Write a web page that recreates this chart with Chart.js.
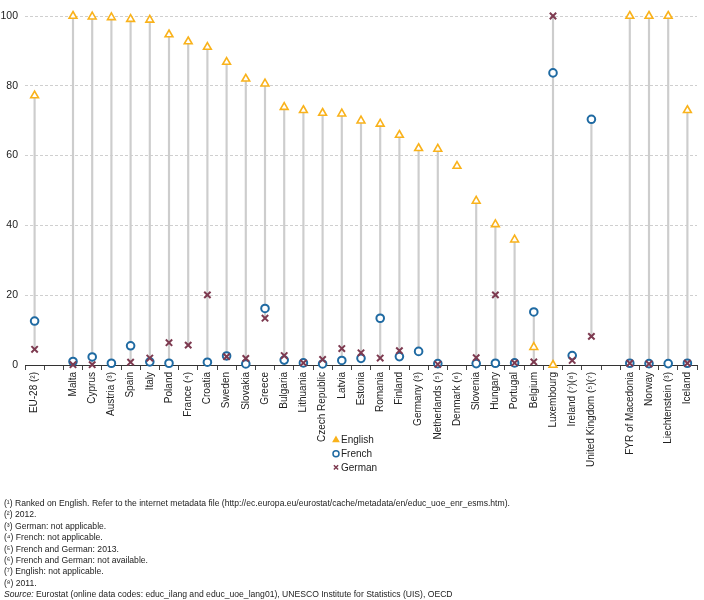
<!DOCTYPE html>
<html>
<head>
<meta charset="utf-8">
<script src="https://cdn.jsdelivr.net/npm/chart.js@4"></script>
<style>
    body { margin: 0; background: #fff; }
    #wrap { position: relative; width: 704px; height: 600px; }
    #notes {
        position: absolute; left: 4px; top: 498px;
        font-family: "Liberation Sans", Arial, sans-serif;
        font-size: 8.6px; line-height: 11.4px; color: #222;
    }
</style>
</head>
<body>
<div id="wrap">
    <canvas id="chart" width="704" height="600"></canvas>
    <div id="notes">
        (¹) Ranked on English. Refer to the internet metadata file (http://ec.europa.eu/eurostat/cache/metadata/en/educ_uoe_enr_esms.htm).<br>
        (²) 2012.<br>
        (³) German: not applicable.<br>
        (⁴) French: not applicable.<br>
        (⁵) French and German: 2013.<br>
        (⁶) French and German: not available.<br>
        (⁷) English: not applicable.<br>
        (⁸) 2011.<br>
        <i>Source:</i> Eurostat (online data codes: educ_ilang and educ_uoe_lang01), UNESCO Institute for Statistics (UIS), OECD
    </div>
</div>
<script>
// Categories (empty strings are the gaps in the axis)
const countries = ['EU-28 (²)', '', 'Malta', 'Cyprus', 'Austria (³)', 'Spain', 'Italy', 'Poland', 'France (⁴)',
    'Croatia', 'Sweden', 'Slovakia', 'Greece', 'Bulgaria', 'Lithuania', 'Czech Republic', 'Latvia', 'Estonia',
    'Romania', 'Finland', 'Germany (³)', 'Netherlands (⁵)', 'Denmark (⁶)', 'Slovenia', 'Hungary', 'Portugal',
    'Belgium', 'Luxembourg', 'Ireland (⁷)(⁸)', 'United Kingdom (⁵)(⁷)', '', 'FYR of Macedonia', 'Norway',
    'Liechtenstein (³)', 'Iceland'];

const english = [77.2, null, 100, 99.8, 99.6, 99.1, 98.9, 94.7, 92.7, 91.1, 86.8, 82.0, 80.6, 73.9, 73.0, 72.2,
    72.0, 70.0, 69.1, 65.9, 62.1, 61.9, 57.0, 47.0, 40.3, 35.9, 5.1, 0, null, null, null, 100, 100, 100, 73.0];

const french = [12.6, null, 1.0, 2.3, 0.5, 5.5, 0.9, 0.5, null, 0.8, 2.6, 0.3, 16.2, 1.4, 0.6, 0.3, 1.3, 1.9,
    13.4, 2.4, 3.9, 0.4, null, 0.4, 0.5, 0.6, 15.2, 83.7, 2.7, 70.4, null, 0.5, 0.4, 0.4, 0.5];

const german = [4.5, null, 0.1, 0.1, null, 0.8, 2.0, 6.4, 5.7, 20.1, 2.4, 1.9, 13.4, 2.7, 0.6, 1.6, 4.7, 3.5,
    2.0, 4.1, null, 0.2, null, 2.1, 20.1, 0.6, 0.9, 100, 1.3, 8.2, null, 0.5, 0.3, null, 0.5];

const yTicks = [0, 20, 40, 60, 80, 100];

const colEnglish = '#f9b21b';
const colFrench = '#1f6aa2';
const colGerman = '#7d3a50';
const font = '"Liberation Sans", Arial, sans-serif';

// high-low range per country, only where there are at least two values
const ranges = countries.map((_, i) => {
    const vals = [english[i], french[i], german[i]].filter(v => v !== null);
    return vals.length > 1 ? [Math.min(...vals), Math.max(...vals)] : null;
});

// legend stacked under the axis labels
const stackedLegend = {
    id: 'stackedLegend',
    afterDraw(chart) {
        const ctx = chart.ctx;
        const x = chart.width / 2 - 16;
        const rows = [
            { label: 'English', style: 'triangle', color: colEnglish, fill: colEnglish },
            { label: 'French', style: 'circle', color: colFrench, fill: '#fff' },
            { label: 'German', style: 'crossRot', color: colGerman, fill: colGerman }
        ];
        ctx.save();
        ctx.font = '10px ' + font;
        ctx.textBaseline = 'middle';
        rows.forEach((r, i) => {
            const y = 440 + i * 13.7;
            ctx.strokeStyle = r.color;
            ctx.fillStyle = r.fill;
            ctx.lineWidth = 1.5;
            Chart.helpers.drawPoint(ctx, { pointStyle: r.style, radius: 3, rotation: 0, borderWidth: 1.5 }, x, y);
            ctx.fillStyle = '#222';
            ctx.fillText(r.label, x + 5, y + 0.5);
        });
        ctx.restore();
    }
};

new Chart(document.getElementById('chart'), {
    type: 'bar',
    data: {
        labels: countries,
        datasets: [
            {
                type: 'line', label: 'English', data: english, showLine: false, order: 3, clip: false,
                pointStyle: 'triangle', pointRadius: 4.5, pointBorderWidth: 1.6,
                borderColor: colEnglish, pointBackgroundColor: '#fff'
            },
            {
                type: 'line', label: 'French', data: french, showLine: false, order: 2, clip: false,
                pointStyle: 'circle', pointRadius: 3.8, pointBorderWidth: 2,
                borderColor: colFrench, pointBackgroundColor: '#fff'
            },
            {
                type: 'line', label: 'German', data: german, showLine: false, order: 1, clip: false,
                pointStyle: 'crossRot', pointRadius: 4.5, pointBorderWidth: 2,
                borderColor: colGerman
            },
            {
                type: 'bar', label: 'range', data: ranges, order: 10,
                backgroundColor: '#cdcdcd', barThickness: 1.5, borderSkipped: false
            }
        ]
    },
    options: {
        responsive: false,
        animation: false,
        layout: { padding: { top: 16, right: 7, left: 0, bottom: 0 } },
        plugins: {
            legend: { display: false },
            tooltip: { enabled: false }
        },
        scales: {
            x: {
                offset: true,
                grid: { display: true, drawOnChartArea: false, offset: true, tickLength: 5, color: '#444' },
                border: { color: '#333', width: 1 },
                ticks: {
                    autoSkip: false, minRotation: 90, maxRotation: 90, padding: 2,
                    color: '#222', font: { family: font, size: 10 }
                },
                afterFit: s => { s.height = 235; }
            },
            y: {
                min: 0, max: 100,
                afterBuildTicks: s => { s.ticks = yTicks.map(v => ({ value: v })); },
                grid: { color: '#cfcfcf', drawTicks: false },
                border: { display: false, dash: [3, 2] },
                ticks: { padding: 7, color: '#222', font: { family: font, size: 10.5 } },
                afterFit: s => { s.width = 25; }
            }
        }
    },
    plugins: [stackedLegend]
});
</script>
</body>
</html>
